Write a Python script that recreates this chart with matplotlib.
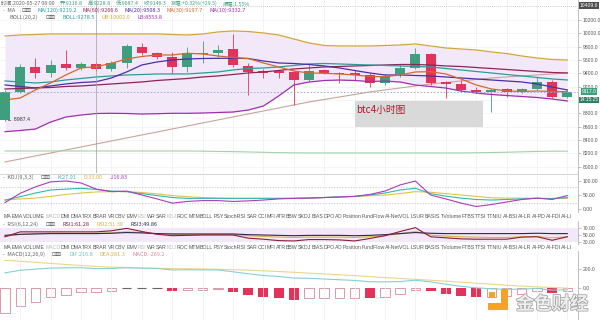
import matplotlib
matplotlib.use('Agg')
import matplotlib.pyplot as plt
from matplotlib.patches import Rectangle
import matplotlib.patheffects as pe
from matplotlib import font_manager

CJK = ['Noto Sans CJK SC', 'DejaVu Sans']
plt.rcParams['font.family'] = ['DejaVu Sans']
_names = {f.name for f in font_manager.fontManager.ttflist}
NARROW = 'Liberation Sans Narrow' if 'Liberation Sans Narrow' in _names else 'Liberation Sans'
NARROW_CJK = ['Noto Sans CJK SC', NARROW, 'DejaVu Sans']

# ---------------- data ----------------
opens = [8700, 9124, 9490, 9409, 9535, 9475, 9535, 9460, 9559, 9799, 9700, 9640, 9499, 9685, 9709, 9760, 9514, 9439, 9434, 9415,
         9300, 9450, 9409, 9404, 9374, 9250, 9385, 9484, 9685, 9265, 9235, 9150, 9124, 9165, 9124, 9165, 9265, 9049]
closes = [9124, 9499, 9409, 9525, 9475, 9535, 9460, 9550, 9814, 9700, 9640, 9499, 9700, 9709, 9750, 9524, 9415, 9409, 9404, 9300,
          9434, 9409, 9389, 9374, 9259, 9360, 9480, 9685, 9250, 9239, 9150, 9124, 9150, 9124, 9165, 9265, 9049, 9117]
highs = [9150, 9540, 9630, 9600, 9750, 9574, 9570, 9580, 9840, 9860, 9720, 9724, 9799, 9884, 9825, 9985, 9550, 9465, 9450, 9450,
         9524, 9470, 9420, 9450, 9404, 9390, 9525, 9775, 9705, 9284, 9300, 9199, 9165, 9180, 9180, 9349, 9300, 9150]
lows = [8685, 9110, 9330, 9349, 9450, 9450, 9435, 9440, 9480, 9675, 9615, 9390, 9424, 9550, 9649, 9499, 9075, 9330, 9330, 8925,
        9284, 9390, 9254, 9300, 9199, 9225, 9344, 9464, 9225, 9025, 9120, 9105, 8824, 9049, 9105, 9150, 9030, 9030]

boll_up = [9960, 9975, 9982, 9990, 9990, 9990, 9990, 9990, 9990, 9990, 9990, 9982, 9975, 9990, 10020, 10035, 10027, 10005, 9975, 9915,
           9855, 9817, 9810, 9810, 9810, 9817, 9825, 9840, 9810, 9780, 9765, 9750, 9720, 9697, 9660, 9630, 9607, 9600]
boll_lo = [8524, 8542, 8564, 8669, 8744, 8774, 8797, 8800, 8797, 8789, 8794, 8800, 8800, 8804, 8812, 8819, 8849, 8909, 9059, 9224,
           9269, 9292, 9299, 9292, 9277, 9284, 9269, 9224, 9202, 9179, 9134, 9104, 9082, 9067, 9052, 9037, 9014, 8984]
ma_orange = [9000, 9030, 9150, 9255, 9375, 9480, 9499, 9550, 9615, 9652, 9675, 9675, 9700, 9690, 9660, 9637, 9622, 9555, 9495, 9435,
             9405, 9400, 9390, 9375, 9352, 9349, 9375, 9420, 9424, 9390, 9315, 9225, 9165, 9135, 9127, 9135, 9127, 9124]
ma_blue = [9225, 9202, 9180, 9210, 9240, 9262, 9274, 9330, 9420, 9525, 9570, 9600, 9615, 9622, 9625, 9625, 9622, 9585, 9555, 9547,
           9532, 9510, 9480, 9442, 9405, 9375, 9375, 9367, 9360, 9345, 9330, 9315, 9300, 9285, 9270, 9240, 9195, 9150]
ma_teal = [9285, 9270, 9255, 9270, 9300, 9322, 9345, 9360, 9375, 9382, 9390, 9390, 9390, 9405, 9420, 9450, 9472, 9480, 9495, 9517,
           9540, 9547, 9540, 9532, 9525, 9517, 9510, 9502, 9495, 9472, 9450, 9427, 9405, 9382, 9360, 9337, 9315, 9300]
ma_maroon = [9165, 9172, 9180, 9187, 9202, 9210, 9225, 9240, 9255, 9270, 9292, 9307, 9322, 9345, 9360, 9382, 9405, 9420, 9442, 9465,
             9480, 9495, 9502, 9510, 9517, 9525, 9532, 9532, 9525, 9510, 9502, 9487, 9472, 9457, 9442, 9427, 9412, 9405]
ma_long = [8070, 8115, 8160, 8205, 8250, 8295, 8340, 8385, 8430, 8475, 8520, 8565, 8610, 8655, 8700, 8745, 8790, 8835, 8880, 8925,
           8970, 9007, 9045, 9082, 9120, 9150, 9180, 9210, 9240, 9262, 9285, 9307, 9330, 9345, 9360, 9375, 9390, 9405]
ma_green = [8235, 8235, 8235, 8235, 8235, 8235, 8235, 8235, 8235, 8235, 8235, 8235, 8235, 8232, 8228, 8225, 8220, 8215, 8210, 8207,
            8205, 8205, 8205, 8205, 8205, 8205, 8205, 8205, 8205, 8205, 8205, 8208, 8212, 8216, 8222, 8228, 8232, 8232]
price_ticks = [8000, 8200, 8400, 8600, 8800, 9000, 9200, 9400, 9600, 9800, 10000, 10200]

kdj_k = [32, 44, 57, 68, 71, 74, 70, 64, 62, 55, 48, 41, 38, 38, 38, 38, 38, 38, 38, 38,
         39, 41, 43, 45, 50, 57, 68, 74, 55, 46, 39, 34, 32, 34, 36, 38, 37, 41]
kdj_d = [32, 36, 39, 45, 52, 57, 61, 62, 62, 59, 54, 48, 44, 41, 39, 38, 38, 38, 38, 38,
         39, 41, 43, 45, 47, 50, 55, 62, 60, 55, 50, 45, 40, 39, 39, 38, 38, 38]
kdj_j = [23, 56, 79, 97, 100, 93, 71, 62, 64, 50, 36, 21, 27, 30, 30, 27, 29, 32, 36, 38,
         39, 41, 43, 45, 52, 64, 86, 100, 50, 36, 21, 9, 16, 25, 34, 39, 34, 48]

rsi1 = [45, 59, 59, 59, 59, 59, 59, 62, 69, 60, 52, 48, 49, 50, 50, 50, 41, 38, 34, 33,
        37, 37, 36, 33, 40, 48, 60, 71, 45, 42, 39, 38, 38, 38, 44, 45, 35, 45]
rsi2 = [46, 52, 54, 55, 55, 55, 55, 56, 59, 57, 54, 52, 51, 51, 51, 51, 48, 46, 44, 43,
        44, 44, 44, 43, 45, 48, 54, 60, 50, 47, 45, 44, 43, 43, 45, 46, 42, 45]
rsi3 = [49, 52, 53, 54, 54, 54, 54, 55, 57, 56, 54, 53, 53, 53, 53, 53, 51, 50, 49, 48,
        49, 49, 49, 48, 49, 51, 54, 57, 55, 54, 54, 54, 54, 54, 54, 55, 54, 54]

macd_hist = [-265, -190, -144, -98, -70, -46, -46, -28, -3, -2, -1, -30, -20, -18, -14, -45, -77, -98, -105, -123,
             -110, -106, -104, -100, -108, -90, -63, -18, -35, -63, -88, -98, -96, -88, -63, -35, -53, -35]
macd_dea = [292, 282, 271, 259, 248, 237, 227, 220, 215, 210, 207, 205, 203, 200, 197, 193, 188, 181, 174, 166,
            157, 148, 139, 130, 120, 110, 100, 91, 82, 72, 62, 51, 40, 30, 20, 12, 5, -2]
macd_dif = [160, 187, 199, 210, 213, 214, 204, 206, 214, 209, 206, 190, 193, 191, 190, 171, 150, 132, 122, 105,
            102, 95, 87, 80, 66, 65, 68, 82, 65, 40, 18, 2, -8, -14, -12, -5, -22, -19]

tabs = ["MA", "EMA", "VOLUME", "MACD", "DMI", "DMA", "TRX", "BRAR", "VR", "OBV", "EMV", "RSI", "WR", "SAR", "KDJ",
        "ROC", "MTM", "BOLL", "PSY", "StochRSI", "SAR", "CCI", "MFI", "ATR", "BBW", "SKDJ", "BIAS", "DPO", "AO",
        "Position", "FundFlow", "AI-NetVOL", "LSUR", "BASIS", "TVolume", "FTBS", "TTSI", "TTNIU", "AI-BSI", "AI-LR",
        "AI-PD", "AI-FDI", "AI-LI"]
active_tabs = ["MACD", "RSI", "KDJ"]

# ---------------- styling ----------------
GREEN = '#3f9e7d'
RED = '#e2345a'
FILL = '#f3e8f9'
W, H = 600, 320
fig = plt.figure(figsize=(W / 100, H / 100), dpi=100)
fig.patch.set_facecolor('white')
n = len(opens)
idx = list(range(n))
XL = (-0.33, 37.7)


def px_axes(x0, y0, x1, y1):
    ax = fig.add_axes([x0 / W, 1 - y1 / H, (x1 - x0) / W, (y1 - y0) / H])
    ax.set_xlim(*XL)
    ax.set_facecolor('none')
    for s in ['left', 'top', 'bottom']:
        ax.spines[s].set_visible(False)
    ax.spines['right'].set_color('#b5b5b5')
    ax.spines['right'].set_linewidth(0.6)
    ax.yaxis.tick_right()
    ax.tick_params(axis='y', labelsize=3.6, labelcolor='#555555', color='#aaaaaa',
                   length=2, width=0.5, pad=1.2, labelfontfamily=NARROW)
    ax.tick_params(axis='x', length=0, labelbottom=False)
    ax.set_xticks(range(1, n, 2))
    ax.grid(axis='x', color='#eeeeee', lw=0.5)
    return ax


# ---------------- main price pane ----------------
ax = px_axes(0, 0, 578, 173)
ax.set_ylim(7904.5, 10499.5)
ax.set_yticks(price_ticks)
# the 9000.0 label sits under the countdown box in the reference, so it is not shown
ax.set_yticklabels(["" if v == 9000 else f"{v:.1f}" for v in price_ticks])
ax.grid(axis='y', color='#f0f0f0', lw=0.5)
ax.fill_between(idx, boll_lo, boll_up, color=FILL, lw=0, zorder=1)
ax.plot(idx, ma_long, color='#c9a49c', lw=0.8, zorder=2)
ax.plot(idx, ma_green, color='#9fd3a8', lw=0.8, zorder=2)
ax.plot(idx, boll_up, color='#d4a637', lw=0.9, zorder=5)
ax.plot(idx, boll_lo, color='#a02fb0', lw=0.9, zorder=5)
ax.plot(idx, ma_maroon, color='#8e2555', lw=0.9, zorder=5)
ax.plot(idx, ma_teal, color='#2a9d9a', lw=0.9, zorder=5)
ax.plot(idx, ma_blue, color='#4a2fa8', lw=0.9, zorder=5)
ax.plot(idx, ma_orange, color='#d2692c', lw=0.9, zorder=5)
cols = [GREEN if c >= o else RED for o, c in zip(opens, closes)]
ax.vlines(idx, lows, highs, colors=cols, lw=0.6, zorder=3)
bottoms = [min(o, c) for o, c in zip(opens, closes)]
heights = [max(abs(c - o), 15) for o, c in zip(opens, closes)]
ax.bar(idx, heights, bottom=bottoms, width=0.66, color=cols, lw=0, zorder=4)
ax.axhline(closes[-1], color='#9aa3d6', lw=0.6, ls=(0, (2, 2)), zorder=6)
ax.axhline(10409, color='#999999', lw=0.5, ls=(0, (1, 2)), zorder=6)
ax.axvline(6, color='#a0a0a0', lw=0.5, zorder=6)
ax.text(0.15, 8714, "\u2190 8987.4", fontsize=3.8, color='#333333', va='center', zorder=7,
        family=[NARROW, 'DejaVu Sans'])

# ---------------- KDJ pane ----------------
axk = px_axes(0, 174, 578, 212)
axk.set_ylim(-10.7, 125)
axk.spines['top'].set_visible(True)
axk.spines['top'].set_color('#cccccc')
axk.spines['top'].set_linewidth(0.6)
axk.set_yticks([0, 50, 100])
axk.set_yticklabels(["0.00", "50.00", "100.00"])
for lv in (80, 20):
    axk.axhline(lv, color='#b8bedc', lw=0.5, ls=(0, (2, 2)))
axk.plot(idx, kdj_d, color='#e0c34a', lw=0.8)
axk.plot(idx, kdj_k, color='#2fb8b8', lw=0.8)
axk.plot(idx, kdj_j, color='#b03ab8', lw=0.8)

# ---------------- RSI pane ----------------
axr = px_axes(0, 221, 578, 244)
axr.set_ylim(24.3, 90)
axr.axhspan(30, 70, color=FILL, lw=0, zorder=0)
axr.set_yticks([30, 50, 70])
axr.set_yticklabels(["30.00", "50.00", "70.00"])
axr.plot(idx, rsi2, color='#d9b446', lw=0.8)
axr.plot(idx, rsi3, color='#2c2858', lw=0.8)
axr.plot(idx, rsi1, color='#8c1d3d', lw=0.8)

# ---------------- MACD pane ----------------
axm = px_axes(0, 251, 578, 320)
axm.set_ylim(-337, 390)
axm.set_yticks([0, 200])
axm.set_yticklabels(["0.0", "200.0"])
axm.plot(idx, macd_dea, color='#ead58a', lw=0.8)
axm.plot(idx, macd_dif, color='#86d0d2', lw=0.8)
for i, v in enumerate(macd_hist):
    prev = macd_hist[i - 1] if i > 0 else v
    if abs(v) < 8:
        axm.hlines(0, i - 0.3, i + 0.3, color='#666666', lw=0.8)
    elif abs(v) > abs(prev):
        axm.bar(i, v, width=0.66, color=RED, lw=0)
    else:
        axm.bar(i, v, width=0.62, facecolor='none', edgecolor='#d48a9c', lw=0.6)

# ---------------- texts ----------------
fig.canvas.draw()
rend = fig.canvas.get_renderer()


def seq(x, y, parts, size=4.0, gap=4, family=NARROW_CJK):
    for txt, col in parts:
        t = fig.text(x / W, 1 - y / H, txt, fontsize=size, color=col, va='center', ha='left', family=family)
        x += t.get_window_extent(renderer=rend).width + gap
    return x


G = '#666666'
ICON = ("\u22a1\u22a0", '#555555')
VC = '#3f9e7d'
seq(1, 3.5, [("时间:2020-05-27 08:00", G), ("开:9116.8", VC), ("高:9228.8", VC),
             ("低:9087.4", VC), ("收:9146.3", VC), ("涨幅:+0.32%(+29.5)", VC),
             ("振幅:1.55%", VC)], size=3.8, gap=5)
seq(3, 10.5, [("-  MA", G), ICON, ("MA(120):9219.2", '#2a9d9a'), ("MA(60):9266.6", '#8e2555'),
              ("MA(20):9508.3", '#4a2fa8'), ("MA(30):9197.7", '#d2692c'), ("MA(10):9332.7", '#a02fb0')], gap=6)
seq(10, 17.5, [("BOLL(20,2)", G), ICON, ("BOLL:9278.5", '#2a9d9a'), ("UB:10002.0", '#d4a637'),
               ("LB:8553.8", '#a02fb0')], gap=7)
seq(3, 177.5, [("-  KDJ(9,3,3)", G), ICON, ("K:27.91", '#2fb8b8'), ("D:33.00", '#d9b446'),
               ("J:16.83", '#b03ab8')], gap=7)
seq(3, 224, [("-  RSI(6,12,24)", G), ICON, ("RSI1:61.28", '#8c1d3d'), ("RSI2:51.38", '#d9b446'),
             ("RSI3:49.86", '#2c2858')], gap=7)
seq(3, 254.5, [("-  MACD(12,26,9)", G), ICON, ("DIF:216.8", '#6cc4c6'), ("DEA:281.3", '#d9b446'),
               ("MACD:-269.2", '#d48a9c')], gap=7)

# tab rows
widths = []
probe = []
for tname in tabs:
    t = fig.text(0, 0, tname, fontsize=3.8, family=NARROW)
    widths.append(t.get_window_extent(renderer=rend).width)
    probe.append(t)
for t in probe:
    t.remove()
gap = (568 - sum(widths)) / (len(tabs) - 1)
for ytab in (217, 247.5):
    x = 4
    for tname, w in zip(tabs, widths):
        col = '#bbbbbb' if tname in active_tabs else '#555555'
        fig.text(x / W, 1 - ytab / H, tname, fontsize=3.8, color=col, va='center', ha='left', family=NARROW)
        x += w + gap

# price labels on right axis
fig.text(589 / W, 1 - 91.5 / H, f"{closes[-1]:.1f}", fontsize=3.6, color='white', ha='center', va='center',
         family=NARROW, bbox=dict(boxstyle='square,pad=0.12', fc=GREEN, ec='none'))
fig.text(589 / W, 1 - 99.8 / H, "14:15:25", fontsize=3.4, color='white', ha='center', va='center',
         family=NARROW, bbox=dict(boxstyle='square,pad=0.1', fc='#2f7f63', ec='none'))
fig.text(589 / W, 1 - 5.7 / H, "10409.6", fontsize=3.6, color='white', ha='center', va='center',
         family=NARROW, bbox=dict(boxstyle='square,pad=0.15', fc='#4d4d4d', ec='none'))

# overlay label box
fig.add_artist(Rectangle((355 / W, 1 - 127 / H), 128 / W, 26 / H, transform=fig.transFigure,
                         fc='#d9d9d9', ec='none', zorder=3))
fig.text(356 / W, 1 - 110 / H, "btc4小时图", fontsize=7, color='#b3162b', va='center', ha='left',
         family=CJK, zorder=4)

# watermark
OR = '#f3a32a'
for (x0, y0, w, h) in [(501, 289, 7, 20), (488, 303, 20, 7), (489, 292, 6, 6)]:
    fig.add_artist(Rectangle((x0 / W, 1 - (y0 + h) / H), w / W, h / H, transform=fig.transFigure,
                             fc=OR, ec='none', zorder=5))
fig.text(552 / W, 1 - 304 / H, "金色财经", fontsize=13, color='#eeeeee', ha='center', va='center',
         family=CJK, weight='bold', zorder=5,
         path_effects=[pe.withStroke(linewidth=1.0, foreground='#9a9a9a')])

fig.savefig('out.png', dpi=100, facecolor='white')
